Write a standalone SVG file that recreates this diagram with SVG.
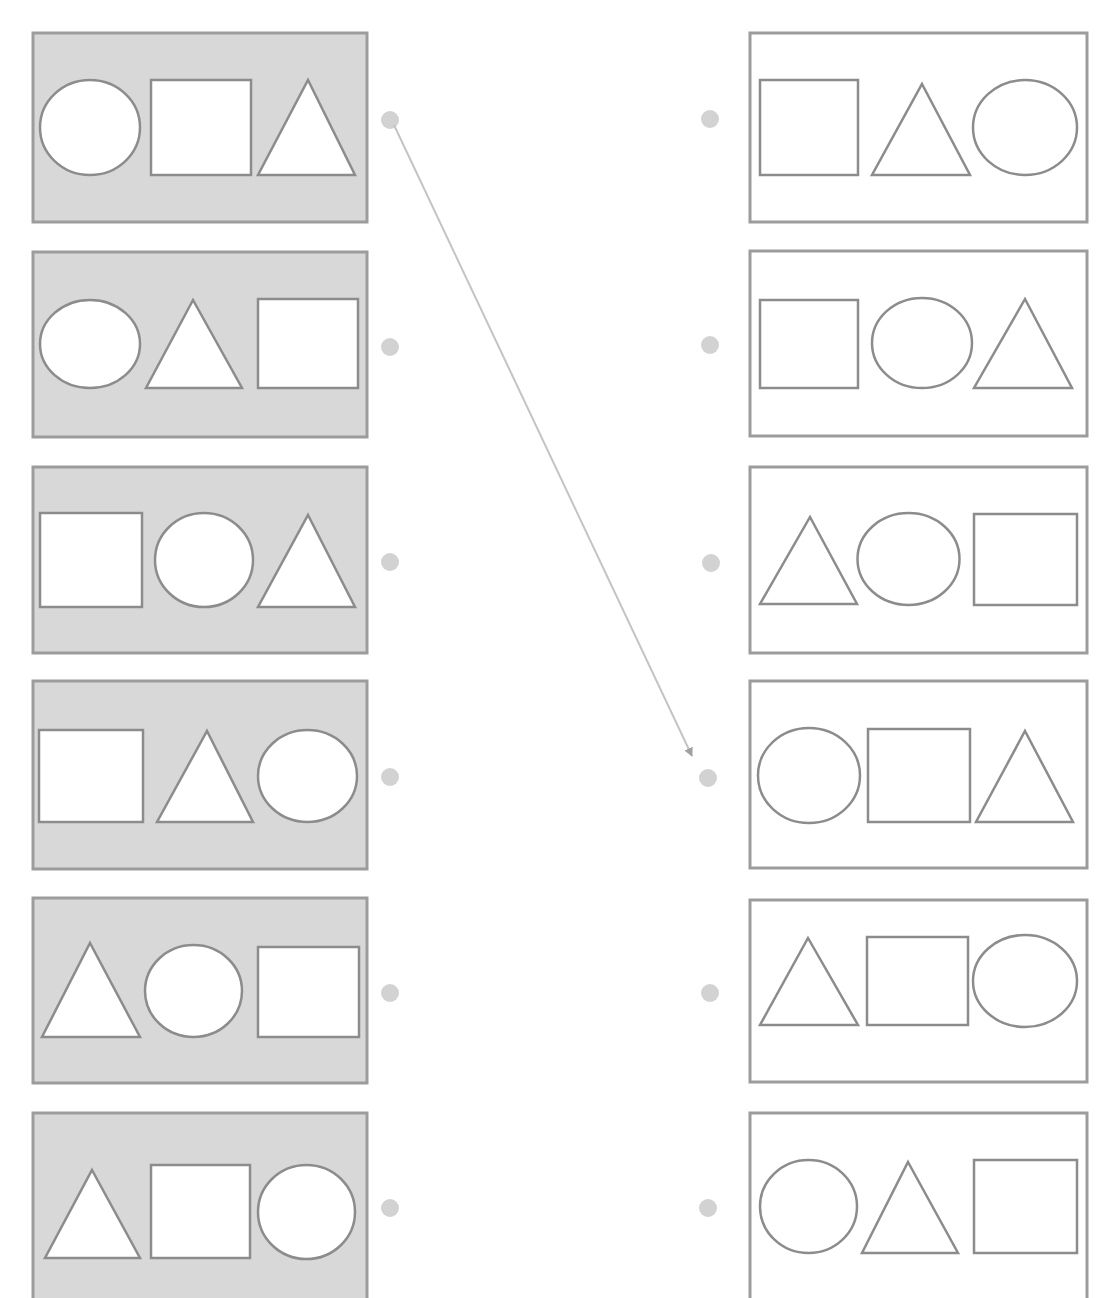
<svg xmlns="http://www.w3.org/2000/svg" width="1110" height="1298" viewBox="0 0 1110 1298">
<defs>
<style>
.lbox{fill:#d8d8d8;stroke:#9c9c9c;stroke-width:3}
.rbox{fill:#ffffff;stroke:#9c9c9c;stroke-width:3}
.sh{fill:#ffffff;stroke:#8c8c8c;stroke-width:2.5}
.dot{fill:#d2d2d2}
.conn{stroke:#c4c4c4;stroke-width:2;fill:none}
</style>
<marker id="ah" viewBox="0 0 10 10" refX="9" refY="5" markerWidth="9" markerHeight="9" orient="auto" markerUnits="userSpaceOnUse">
<path d="M0,0 L10,5 L0,10 z" fill="#a0a0a0"/>
</marker>
</defs>
<rect x="0" y="0" width="1110" height="1298" fill="#ffffff"/>

<g id="left1">
<rect class="lbox" x="33" y="33" width="334" height="189"/>
<ellipse class="sh" cx="90" cy="127.5" rx="50" ry="47.5"/>
<rect class="sh" x="151" y="80" width="100" height="95"/>
<polygon class="sh" points="308,80 355,175 258,175"/>
<circle class="dot" cx="390" cy="120" r="9"/>
</g>
<g id="left2">
<rect class="lbox" x="33" y="252" width="334" height="185"/>
<ellipse class="sh" cx="90" cy="344" rx="50" ry="44"/>
<polygon class="sh" points="193,300 242,388 146,388"/>
<rect class="sh" x="258" y="299" width="100" height="89"/>
<circle class="dot" cx="390" cy="347" r="9"/>
</g>
<g id="left3">
<rect class="lbox" x="33" y="467" width="334" height="186"/>
<rect class="sh" x="40" y="513" width="102" height="94"/>
<ellipse class="sh" cx="204" cy="560" rx="49" ry="47"/>
<polygon class="sh" points="308,515 355,607 258,607"/>
<circle class="dot" cx="390" cy="562" r="9"/>
</g>
<g id="left4">
<rect class="lbox" x="33" y="681" width="334" height="188"/>
<rect class="sh" x="39" y="730" width="104" height="92"/>
<polygon class="sh" points="207,731 253,822 157,822"/>
<ellipse class="sh" cx="307.5" cy="776" rx="49.5" ry="46"/>
<circle class="dot" cx="390" cy="777" r="9"/>
</g>
<g id="left5">
<rect class="lbox" x="33" y="898" width="334" height="185"/>
<polygon class="sh" points="90,943 140,1037 42,1037"/>
<ellipse class="sh" cx="193.5" cy="991" rx="48.5" ry="46"/>
<rect class="sh" x="258" y="947" width="101" height="90"/>
<circle class="dot" cx="390" cy="993" r="9"/>
</g>
<g id="left6">
<rect class="lbox" x="33" y="1113" width="334" height="200"/>
<polygon class="sh" points="92,1170 140,1258 45,1258"/>
<rect class="sh" x="151" y="1165" width="99" height="93"/>
<ellipse class="sh" cx="306.5" cy="1212" rx="48.5" ry="47"/>
<circle class="dot" cx="390" cy="1208" r="9"/>
</g>

<g id="right1">
<rect class="rbox" x="750" y="33" width="337" height="189"/>
<rect class="sh" x="760" y="80" width="98" height="95"/>
<polygon class="sh" points="922,84 970,175 872,175"/>
<ellipse class="sh" cx="1025" cy="127.5" rx="52" ry="47.5"/>
<circle class="dot" cx="710" cy="119" r="9"/>
</g>
<g id="right2">
<rect class="rbox" x="750" y="251" width="337" height="185"/>
<rect class="sh" x="760" y="300" width="98" height="88"/>
<ellipse class="sh" cx="922" cy="343" rx="50" ry="45"/>
<polygon class="sh" points="1025,299 1072,388 974,388"/>
<circle class="dot" cx="710" cy="345" r="9"/>
</g>
<g id="right3">
<rect class="rbox" x="750" y="467" width="337" height="186"/>
<polygon class="sh" points="810,517 857,604 760,604"/>
<ellipse class="sh" cx="908.5" cy="559" rx="51" ry="46"/>
<rect class="sh" x="974" y="514" width="103" height="91"/>
<circle class="dot" cx="711" cy="563" r="9"/>
</g>
<g id="right4">
<rect class="rbox" x="750" y="681" width="337" height="187"/>
<ellipse class="sh" cx="809" cy="775.5" rx="51" ry="47.5"/>
<rect class="sh" x="868" y="729" width="102" height="93"/>
<polygon class="sh" points="1025,731 1073,822 976,822"/>
<circle class="dot" cx="708" cy="778" r="9"/>
</g>
<g id="right5">
<rect class="rbox" x="750" y="900" width="337" height="182"/>
<polygon class="sh" points="808,938 858,1025 760,1025"/>
<rect class="sh" x="867" y="937" width="101" height="88"/>
<ellipse class="sh" cx="1025" cy="981" rx="52" ry="46"/>
<circle class="dot" cx="710" cy="993" r="9"/>
</g>
<g id="right6">
<rect class="rbox" x="750" y="1113" width="337" height="200"/>
<ellipse class="sh" cx="808.5" cy="1206.5" rx="48.5" ry="46.5"/>
<polygon class="sh" points="908,1162 958,1253 862,1253"/>
<rect class="sh" x="974" y="1160" width="103" height="93"/>
<circle class="dot" cx="708" cy="1208" r="9"/>
</g>

<g id="connectors">
<line class="conn" x1="394" y1="125" x2="692" y2="756" marker-end="url(#ah)"/>
</g>
</svg>
